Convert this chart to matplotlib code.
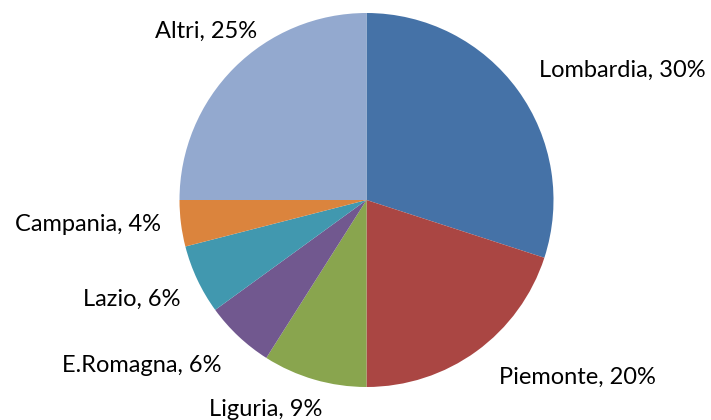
import matplotlib
matplotlib.use("Agg")
import matplotlib.pyplot as plt

categories = ["Lombardia", "Piemonte", "Liguria", "E.Romagna", "Lazio", "Campania", "Altri"]
values = [30, 20, 9, 6, 6, 4, 25]
colors = ["#4572A7", "#AA4643", "#89A54E", "#71588F", "#4198AF", "#DB843D", "#93A9CF"]

# label centres in pixel coordinates (layout only)
label_px = [(622, 70), (577, 377), (266, 409), (142, 365), (132, 299), (88, 224), (206, 31)]

W, H = 711, 420
cx, cy, r = 366.5, 200, 187
fig = plt.figure(figsize=(W / 100, H / 100), dpi=100)
ax = fig.add_axes([(cx - r) / W, (H - cy - r) / H, 2 * r / W, 2 * r / H])
ax.pie(values, colors=colors, startangle=90, counterclock=False, radius=1,
       wedgeprops=dict(linewidth=0))
ax.set_xlim(-1, 1)
ax.set_ylim(-1, 1)
ax.set_aspect("equal")
ax.axis("off")

total = sum(values)
for name, v, (px, py) in zip(categories, values, label_px):
    x = (px - cx) / r
    y = (cy - py) / r
    ax.text(x, y, f"{name}, {round(100 * v / total)}%", ha="center", va="center",
            fontsize=17, family=["Lato", "DejaVu Sans"], color="#000000", clip_on=False)

fig.savefig("out.png", dpi=100)
